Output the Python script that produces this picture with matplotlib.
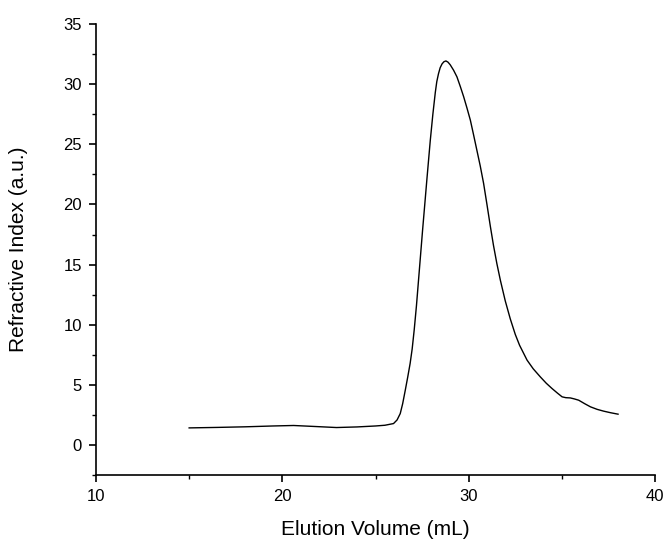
import numpy as np
import matplotlib.pyplot as plt
from matplotlib.ticker import MultipleLocator

plt.rcParams['font.family'] = ['Liberation Sans', 'DejaVu Sans']

# elution volume (mL) and refractive index (a.u.)
volume = [15.0, 16.5, 18.0, 19.5, 20.6, 21.7, 22.9, 24.0, 25.0, 25.5, 25.96,
          26.15, 26.32, 26.45, 26.59, 26.72, 26.85, 26.96, 27.07, 27.19, 27.3,
          27.41, 27.52, 27.63, 27.75, 27.84, 27.93, 28.07, 28.2, 28.28, 28.37,
          28.46, 28.56, 28.66, 28.77, 28.88, 29.0, 29.18, 29.36, 29.54, 29.72,
          29.9, 30.08, 30.25, 30.43, 30.61, 30.79, 30.97, 31.15, 31.32, 31.5,
          31.69, 31.95, 32.22, 32.49, 32.72, 33.12, 33.45, 33.83, 34.15, 34.46,
          34.75, 35.0, 35.2, 35.44, 35.65, 35.89, 36.2, 36.52, 36.88, 37.23,
          37.6, 38.0]
signal = [1.44, 1.48, 1.53, 1.6, 1.64, 1.56, 1.47, 1.52, 1.6, 1.66, 1.8,
          2.1, 2.63, 3.45, 4.57, 5.65, 6.79, 8.0, 9.6, 11.6, 13.7,
          15.8, 17.9, 19.9, 22.1, 23.7, 25.3, 27.5, 29.3, 30.2, 30.85,
          31.35, 31.67, 31.85, 31.92, 31.82, 31.6, 31.15, 30.6, 29.8, 28.95,
          28.0, 27.0, 25.8, 24.5, 23.2, 21.75, 20.0, 18.2, 16.6, 15.1,
          13.7, 12.0, 10.5, 9.2, 8.3, 7.07, 6.35, 5.68, 5.15, 4.71,
          4.33, 4.02, 3.95, 3.93, 3.85, 3.74, 3.46, 3.19, 2.98, 2.83,
          2.7, 2.58]

fig = plt.figure(figsize=(6.66, 5.42), dpi=100)
ax = fig.add_axes([0.144, 0.123, 0.840, 0.833])

ax.plot(volume, signal, color='black', lw=1.0)

ax.set_xlim(10, 40)
ax.set_ylim(-2.5, 35)
ax.xaxis.set_major_locator(MultipleLocator(10))
ax.xaxis.set_minor_locator(MultipleLocator(5))
ax.yaxis.set_major_locator(MultipleLocator(5))
ax.yaxis.set_minor_locator(MultipleLocator(2.5))
ax.tick_params(which='major', direction='out', length=5, width=1.2, labelsize=12, pad=5)
ax.tick_params(which='minor', direction='out', length=3, width=1.0)

ax.spines['top'].set_visible(False)
ax.spines['right'].set_visible(False)
ax.spines['left'].set_linewidth(1.2)
ax.spines['bottom'].set_linewidth(1.2)

ax.set_xlabel('Elution Volume (mL)', fontsize=15)
ax.set_ylabel('Refractive Index (a.u.)', fontsize=15)
ax.xaxis.set_label_coords(0.5, -0.10)
ax.yaxis.set_label_coords(-0.122, 0.5)

fig.savefig('out.png', dpi=100)
